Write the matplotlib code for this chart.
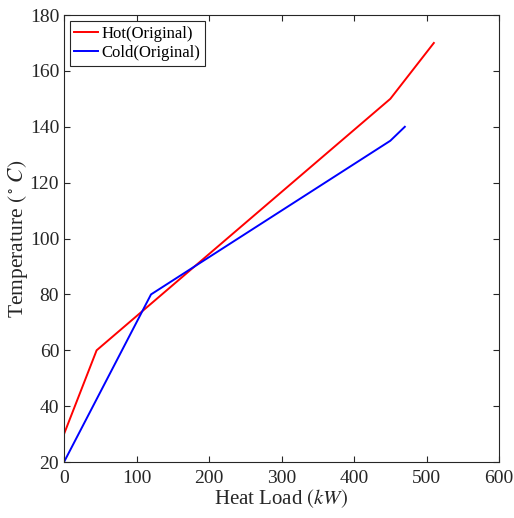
import matplotlib.pyplot as plt

plt.rcParams['font.family'] = ['Liberation Serif', 'DejaVu Serif']
plt.rcParams['mathtext.fontset'] = 'stix'

hot_load = [0, 45, 450, 510]
hot_temp = [30, 60, 150, 170]
cold_load = [0, 120, 450, 470]
cold_temp = [20, 80, 135, 140]

fig = plt.figure(figsize=(5.14, 5.18), dpi=100)
ax = fig.add_axes([0.1245, 0.108, 0.8465, 0.863])

ax.plot(hot_load, hot_temp, color='r', lw=1.4, label='Hot(Original)')
ax.plot(cold_load, cold_temp, color='b', lw=1.4, label='Cold(Original)')

ax.set_xlim(0, 600)
ax.set_ylim(20, 180)
ax.set_xticks(range(0, 601, 100))
ax.set_yticks(range(20, 181, 20))
ax.tick_params(direction='in', top=True, right=True, labelsize=14,
               colors='#262626', length=4)
ax.tick_params(axis='x', pad=6)
for s in ax.spines.values():
    s.set_color('#262626')
    s.set_linewidth(0.8)

ax.set_xlabel(r'Heat Load $\mathit{(kW)}$', fontsize=15, color='#262626', labelpad=0)
ax.set_ylabel(r'Temperature $\mathit{(^\circ\, C)}$', fontsize=15.5, color='#262626', labelpad=0)

leg = ax.legend(loc='upper left', fontsize=12, fancybox=False, framealpha=1,
                edgecolor='#262626', borderpad=0.28, handlelength=1.4,
                handletextpad=0.2, labelspacing=0.2, borderaxespad=0.35)
leg.get_frame().set_linewidth(0.8)

fig.savefig('out.png', dpi=100)
